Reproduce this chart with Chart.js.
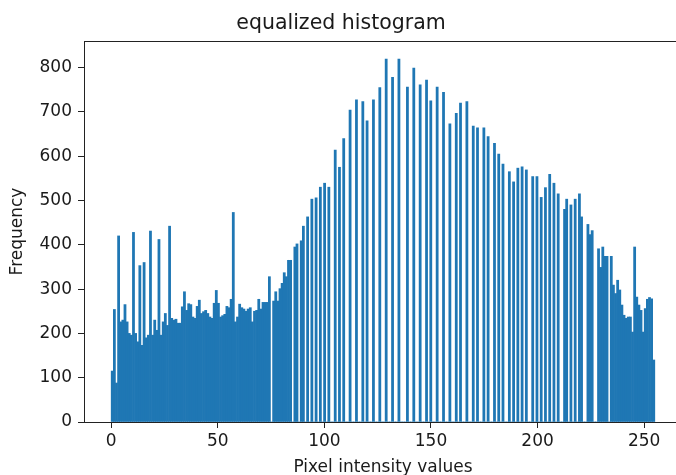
<!DOCTYPE html>
<html lang="en">

<head>
    <meta charset="UTF-8">
    <title>equalized histogram</title>
    <style>
        html, body {
            margin: 0;
            padding: 0;
            overflow: hidden;
            background: #fff;
        }

        .chart-container {
            width: 676px;
            height: 475px;
            overflow: hidden;
        }
    </style>
</head>

<body>
    <div class="chart-container">
        <canvas id="myChart" width="700" height="485"></canvas>
    </div>

    <script src="https://cdn.jsdelivr.net/npm/chart.js"></script>
    <script>
        // counts per intensity bin (256 bins over 0..255)
        const counts = [
            115, 254, 88, 420, 226, 230, 265, 226, 200, 196, 428, 200, 181, 353, 173, 360,
            190, 196, 431, 196, 230, 207, 412, 196, 226, 245, 218, 442, 234, 230, 232, 223,
            223, 260, 294, 252, 267, 265, 237, 234, 261, 275, 245, 249, 252, 245, 237, 234,
            268, 297, 268, 237, 240, 243, 261, 258, 277, 473, 226, 237, 266, 258, 255, 250,
            255, 258, 226, 250, 252, 277, 255, 270, 270, 270, 328, 0, 273, 294, 273, 301,
            313, 337, 328, 365, 365, 0, 395, 402, 0, 409, 442, 0, 463, 0, 503, 0,
            506, 0, 530, 0, 539, 0, 530, 0, 0, 614, 0, 575, 0, 640, 0, 0,
            704, 0, 0, 727, 0, 0, 723, 0, 680, 0, 0, 727, 0, 0, 755, 0,
            0, 819, 0, 0, 778, 0, 0, 819, 0, 0, 0, 756, 0, 0, 799, 0,
            0, 761, 0, 0, 772, 0, 725, 0, 0, 756, 0, 0, 744, 0, 0, 673,
            0, 0, 697, 0, 720, 0, 0, 723, 0, 0, 668, 0, 664, 0, 0, 664,
            0, 644, 0, 0, 629, 0, 605, 0, 582, 0, 0, 565, 0, 542, 0, 573,
            0, 576, 0, 569, 0, 0, 554, 0, 554, 0, 507, 0, 529, 0, 559, 0,
            539, 0, 515, 0, 0, 480, 503, 0, 490, 0, 503, 0, 515, 463, 0, 0,
            446, 423, 432, 0, 0, 391, 349, 395, 374, 374, 0, 374, 309, 290, 320, 298,
            264, 241, 234, 237, 237, 203, 395, 282, 264, 252, 203, 256, 277, 281, 278, 140
        ];
        const xTicks = [0, 50, 100, 150, 200, 250];
        const yTicks = [0, 100, 200, 300, 400, 500, 600, 700, 800];

        const binWidth = 255 / counts.length;
        const points = counts.map((c, i) => ({ x: (i + 0.5) * binWidth, y: c }));

        const font = { family: 'DejaVu Sans', size: 17 };
        const ink = '#1a1a1a';

        // matplotlib style box round the axes
        const frame = {
            id: 'frame',
            afterDatasetsDraw(chart) {
                const { ctx, chartArea: a } = chart;
                ctx.save();
                ctx.strokeStyle = '#222';
                ctx.lineWidth = 1;
                ctx.strokeRect(Math.round(a.left) + 0.5, Math.round(a.top) + 0.5,
                    Math.round(a.right - a.left), Math.round(a.bottom - a.top));
                ctx.restore();
            }
        };

        const ctx = document.getElementById('myChart').getContext('2d');
        const myChart = new Chart(ctx, {
            type: 'bar',
            data: {
                datasets: [{
                    data: points,
                    backgroundColor: '#1f77b4',
                    borderWidth: 0,
                    barPercentage: 1,
                    categoryPercentage: 1
                }]
            },
            plugins: [frame],
            options: {
                responsive: false,
                animation: false,
                devicePixelRatio: 1,
                layout: { padding: { left: 0, right: 18, top: 0, bottom: 0 } },
                plugins: {
                    legend: { display: false },
                    tooltip: { enabled: false },
                    title: {
                        display: true,
                        text: 'equalized histogram',
                        color: ink,
                        font: { family: 'DejaVu Sans', size: 20.5, weight: 'normal' },
                        padding: { top: 11, bottom: 5.4 }
                    }
                },
                scales: {
                    x: {
                        type: 'linear',
                        bounds: 'data',
                        min: -12.75,
                        max: 267.75,
                        offset: false,
                        afterBuildTicks: s => { s.ticks = xTicks.map(v => ({ value: v })); },
                        afterFit: s => { s.height = 63; },
                        grid: { offset: false, drawOnChartArea: false, tickLength: 6, color: '#222' },
                        border: { display: false },
                        ticks: { color: ink, font: font, padding: 3, maxRotation: 0, autoSkip: false },
                        title: {
                            display: true,
                            text: 'Pixel intensity values',
                            color: ink,
                            font: font,
                            padding: { top: 0, bottom: 7 }
                        }
                    },
                    y: {
                        bounds: 'data',
                        min: 0,
                        max: 860,
                        afterBuildTicks: s => { s.ticks = yTicks.map(v => ({ value: v })); },
                        afterFit: s => { s.width = 84; },
                        grid: { drawOnChartArea: false, tickLength: 6, color: '#222' },
                        border: { display: false },
                        ticks: { color: ink, font: font, padding: 6, autoSkip: false },
                        title: {
                            display: true,
                            text: 'Frequency',
                            color: ink,
                            font: font,
                            padding: { top: 7, bottom: 0 }
                        }
                    }
                }
            }
        });
    </script>
</body>

</html>
